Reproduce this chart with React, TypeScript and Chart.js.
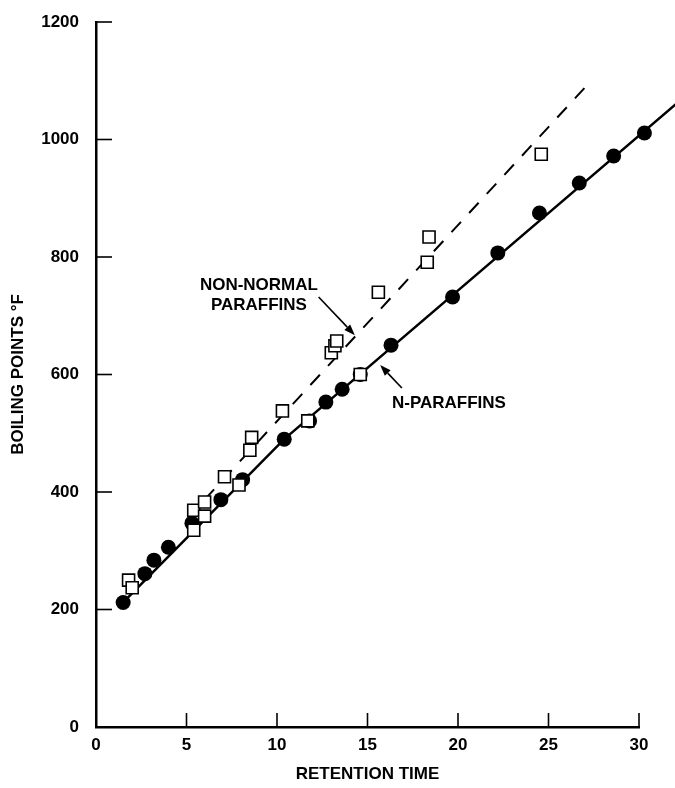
import React, { useEffect, useRef } from "react";
import { Chart, registerables } from "chart.js";

Chart.register(...registerables);

// Retention time vs boiling point (°F)
const nParaffinTime = [1.5, 2.7, 3.2, 4.0, 5.3, 6.9, 8.1, 10.4, 11.8, 12.7, 13.6, 14.6, 16.3, 19.7, 22.2, 24.5, 26.7, 28.6, 30.3];
const nParaffinBp = [212, 261, 284, 306, 347, 387, 421, 490, 521, 553, 575, 600, 650, 732, 807, 875, 926, 972, 1011];

const nonNormalTime = [1.8, 2.0, 5.4, 5.4, 6.0, 6.0, 7.1, 7.9, 8.5, 8.6, 10.3, 11.7, 13.0, 13.2, 13.3, 14.6, 15.6, 18.3, 18.4, 24.6];
const nonNormalBp = [250, 237, 335, 369, 359, 383, 426, 412, 471, 493, 538, 521, 637, 649, 657, 600, 740, 791, 834, 975];

// fitted lines
const nLineTime = [1.5, 10.4, 32.1];
const nLineBp = [212, 490, 1062];
const nonNormalLineTime = [6.0, 27.0];
const nonNormalLineBp = [387, 1088];

// axis ticks
const xTickValues = [0, 5, 10, 15, 20, 25, 30];
const yTickValues = [0, 200, 400, 600, 800, 1000, 1200];

// annotation labels (data coordinates)
const labelTexts = ["NON-NORMAL", "PARAFFINS", "N-PARAFFINS"];
const labelTime = [9.0, 9.0, 19.5];
const labelBp = [752, 717, 551];

// arrows: from -> to
const arrowFromTime = [12.3, 16.9];
const arrowFromBp = [732, 577];
const arrowToTime = [14.3, 15.7];
const arrowToBp = [667, 616];

const FONT_FAMILY = "'Liberation Sans', Arial, Helvetica, sans-serif";

const zip = (xs: number[], ys: number[]) => xs.map((x, i) => ({ x, y: ys[i] }));

const decorPlugin = {
  id: "decor",
  afterDraw(chart: any) {
    const ctx = chart.ctx;
    const xs = chart.scales.x;
    const ys = chart.scales.y;
    const area = chart.chartArea;
    ctx.save();
    ctx.strokeStyle = "#000";
    ctx.fillStyle = "#000";
    // inward tick marks
    ctx.lineWidth = 1.6;
    xTickValues.forEach((v) => {
      if (v === 0) return;
      const px = xs.getPixelForValue(v);
      ctx.beginPath();
      ctx.moveTo(px, area.bottom);
      ctx.lineTo(px, area.bottom - 14);
      ctx.stroke();
    });
    yTickValues.forEach((v) => {
      if (v === 0) return;
      const py = ys.getPixelForValue(v);
      ctx.beginPath();
      ctx.moveTo(area.left, py);
      ctx.lineTo(area.left + 16, py);
      ctx.stroke();
    });
    // labels
    ctx.font = `bold 17px ${FONT_FAMILY}`;
    ctx.textAlign = "center";
    ctx.textBaseline = "middle";
    labelTexts.forEach((t, i) => {
      ctx.fillText(t, xs.getPixelForValue(labelTime[i]), ys.getPixelForValue(labelBp[i]));
    });
    // arrows
    ctx.lineWidth = 1.6;
    arrowFromTime.forEach((_, i) => {
      const x1 = xs.getPixelForValue(arrowFromTime[i]);
      const y1 = ys.getPixelForValue(arrowFromBp[i]);
      const x2 = xs.getPixelForValue(arrowToTime[i]);
      const y2 = ys.getPixelForValue(arrowToBp[i]);
      const ang = Math.atan2(y2 - y1, x2 - x1);
      const hl = 11;
      const hw = 4;
      const bx = x2 - hl * Math.cos(ang);
      const by = y2 - hl * Math.sin(ang);
      ctx.beginPath();
      ctx.moveTo(x1, y1);
      ctx.lineTo(bx, by);
      ctx.stroke();
      ctx.beginPath();
      ctx.moveTo(x2, y2);
      ctx.lineTo(bx + hw * Math.sin(ang), by - hw * Math.cos(ang));
      ctx.lineTo(bx - hw * Math.sin(ang), by + hw * Math.cos(ang));
      ctx.closePath();
      ctx.fill();
    });
    ctx.restore();
  },
};

export default function App() {
  const canvasRef = useRef<HTMLCanvasElement | null>(null);

  useEffect(() => {
    document.body.style.margin = "0";
    const canvas = canvasRef.current;
    if (!canvas) return;
    const tickFont = { family: FONT_FAMILY, size: 17, weight: "bold" as const };
    const chart = new Chart(canvas, {
      type: "scatter",
      data: {
        datasets: [
          {
            label: "Non-normal paraffins",
            data: zip(nonNormalTime, nonNormalBp),
            pointStyle: "rect",
            pointRadius: 8.5,
            pointBackgroundColor: "#fff",
            pointBorderColor: "#000",
            pointBorderWidth: 1.6,
            showLine: false,
            order: 0,
            clip: false,
          },
          {
            label: "N-paraffins",
            data: zip(nParaffinTime, nParaffinBp),
            pointStyle: "circle",
            pointRadius: 7.5,
            pointBackgroundColor: "#000",
            pointBorderColor: "#000",
            pointBorderWidth: 0,
            showLine: false,
            order: 1,
            clip: false,
          },
          {
            label: "N-paraffins line",
            data: zip(nLineTime, nLineBp),
            showLine: true,
            borderColor: "#000",
            borderWidth: 2.5,
            pointRadius: 0,
            order: 2,
            clip: false,
          },
          {
            label: "Non-normal line",
            data: zip(nonNormalLineTime, nonNormalLineBp),
            showLine: true,
            borderColor: "#000",
            borderWidth: 2,
            borderDash: [14, 12],
            pointRadius: 0,
            order: 3,
            clip: false,
          },
        ],
      },
      options: {
        animation: false,
        responsive: false,
        maintainAspectRatio: false,
        layout: { padding: { top: 22, right: 36, left: 0, bottom: 0 } },
        plugins: {
          legend: { display: false },
          tooltip: { enabled: false },
        },
        scales: {
          x: {
            type: "linear",
            min: 0,
            max: 30,
            afterFit: (s: any) => {
              s.height = 61;
            },
            afterBuildTicks: (s: any) => {
              s.ticks = xTickValues.map((v) => ({ value: v }));
            },
            ticks: {
              color: "#000",
              font: tickFont,
              padding: 0,
              maxRotation: 0,
              callback: (v: any) => String(v),
            },
            grid: { display: false },
            border: { display: true, color: "#000", width: 2.5 },
            title: {
              display: true,
              text: "RETENTION TIME",
              color: "#000",
              font: tickFont,
              padding: { top: 0, bottom: 3 },
            },
          },
          y: {
            type: "linear",
            min: 0,
            max: 1200,
            afterFit: (s: any) => {
              s.width = 96;
            },
            afterBuildTicks: (s: any) => {
              s.ticks = yTickValues.map((v) => ({ value: v }));
            },
            ticks: { color: "#000", font: tickFont, padding: 9, callback: (v: any) => String(v) },
            grid: { display: false },
            border: { display: true, color: "#000", width: 2.5 },
            title: {
              display: true,
              text: "BOILING POINTS °F",
              color: "#000",
              font: tickFont,
              padding: { top: 8, bottom: 0 },
            },
          },
        },
      },
      plugins: [decorPlugin],
    });
    return () => chart.destroy();
  }, []);

  return (
    <div style={{ position: "absolute", left: 0, top: 0, width: 675, height: 788, background: "#fff" }}>
      <canvas ref={canvasRef} width={675} height={788} style={{ display: "block" }} />
    </div>
  );
}
